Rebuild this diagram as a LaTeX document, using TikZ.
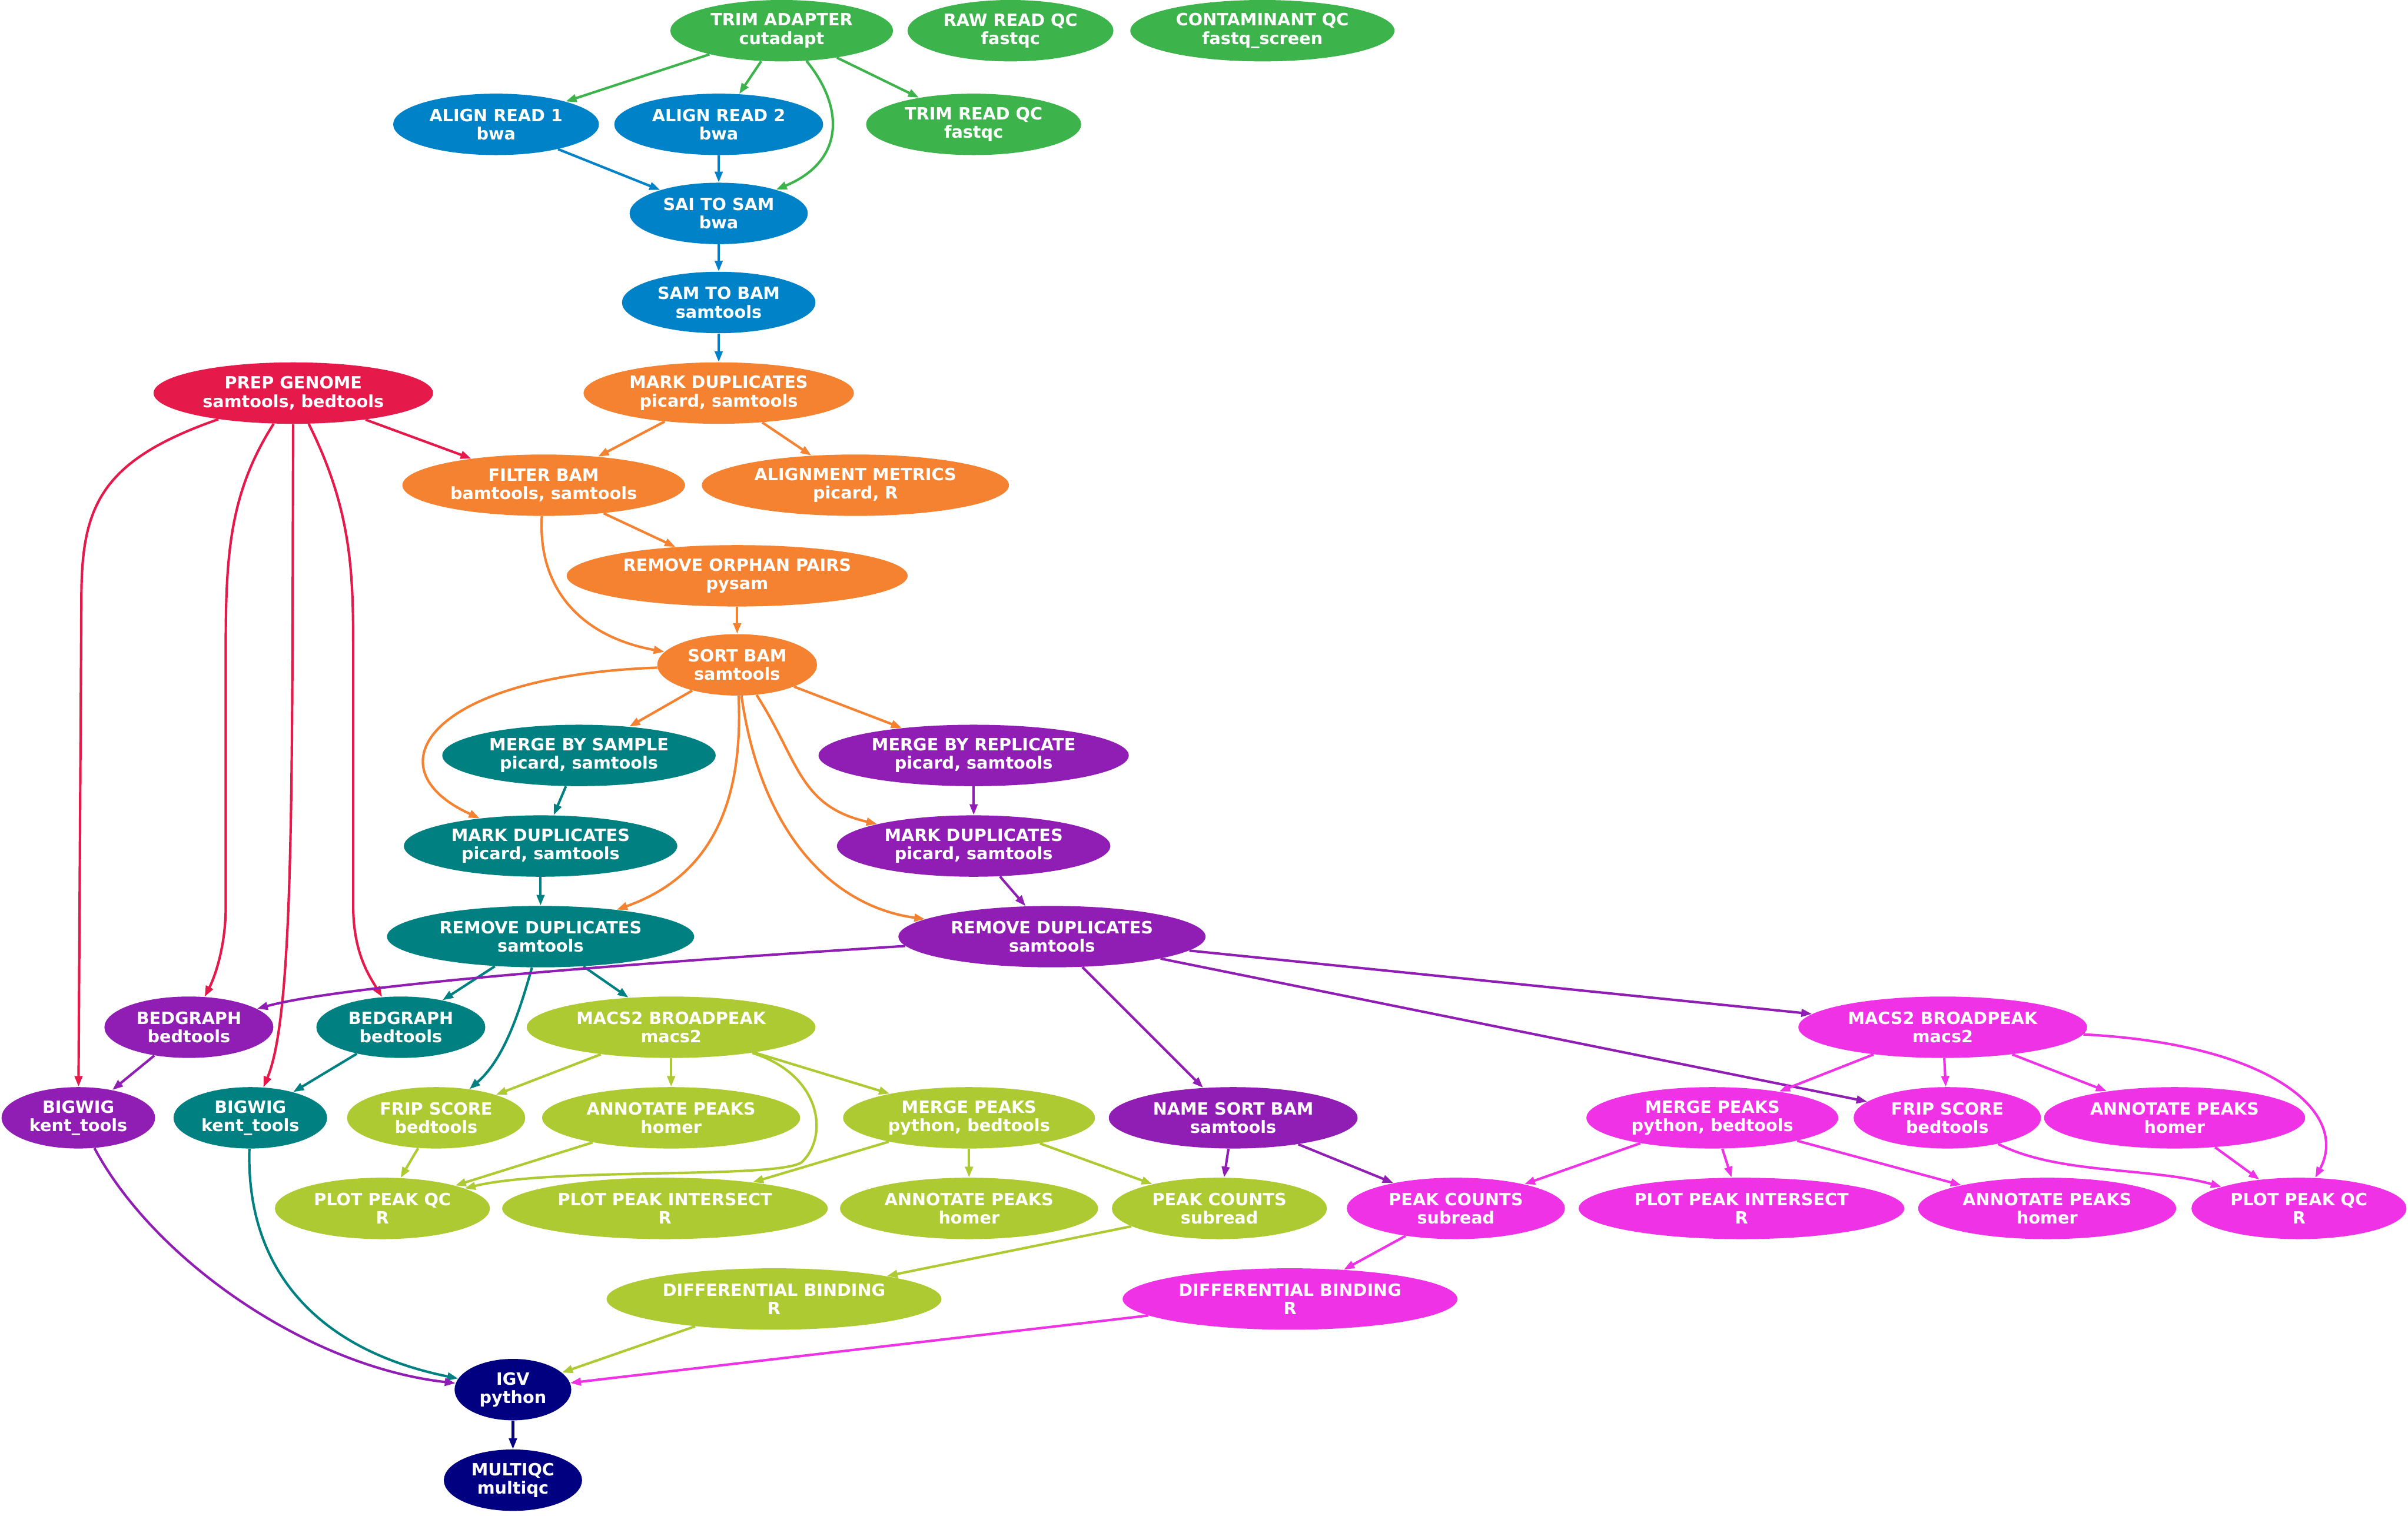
\documentclass[tikz,border=0pt]{standalone}
\usepackage{fontspec}
\setmainfont{DejaVu Sans}
\usetikzlibrary{shapes.geometric,arrows.meta}
\definecolor{cG}{HTML}{3CB44B}
\definecolor{cB}{HTML}{0082C8}
\definecolor{cO}{HTML}{F58231}
\definecolor{cR}{HTML}{E6194B}
\definecolor{cT}{HTML}{008080}
\definecolor{cP}{HTML}{911EB4}
\definecolor{cL}{HTML}{AECA32}
\definecolor{cM}{HTML}{F032E6}
\definecolor{cN}{HTML}{000080}
\tikzset{
  nd/.style={ellipse, inner sep=0pt, minimum height=40pt, text=white,
    font=\bfseries\fontsize{11}{12}\selectfont, align=center},
  ed/.style={line width=1.6pt, -{Triangle[length=7pt,width=5pt]}},
}
\begin{document}
\begin{tikzpicture}[x=1pt,y=-1pt]
\useasboundingbox (0,0) rectangle (1568,987);
% green
\node[nd,fill=cG,minimum width=145pt] (trim) at (509,20) {TRIM ADAPTER\\cutadapt};
\node[nd,fill=cG,minimum width=134pt] (rawqc) at (658,20) {RAW READ QC\\fastqc};
\node[nd,fill=cG,minimum width=172pt] (contqc) at (822,20) {CONTAMINANT QC\\fastq\_screen};
\node[nd,fill=cG,minimum width=140pt] (trimqc) at (634,81) {TRIM READ QC\\fastqc};
% blue
\node[nd,fill=cB,minimum width=134pt] (align1) at (323,81) {ALIGN READ 1\\bwa};
\node[nd,fill=cB,minimum width=136pt] (align2) at (468,81) {ALIGN READ 2\\bwa};
\node[nd,fill=cB,minimum width=116pt] (sai) at (468,139) {SAI TO SAM\\bwa};
\node[nd,fill=cB,minimum width=126pt] (sam2bam) at (468,197) {SAM TO BAM\\samtools};
% red
\node[nd,fill=cR,minimum width=182pt] (prep) at (191,256) {PREP GENOME\\samtools, bedtools};
% orange
\node[nd,fill=cO,minimum width=176pt] (markdup) at (468,256) {MARK DUPLICATES\\picard, samtools};
\node[nd,fill=cO,minimum width=184pt] (filter) at (354,316) {FILTER BAM\\bamtools, samtools};
\node[nd,fill=cO,minimum width=200pt] (alnmet) at (557,316) {ALIGNMENT METRICS\\picard, R};
\node[nd,fill=cO,minimum width=222pt] (orphan) at (480,375) {REMOVE ORPHAN PAIRS\\pysam};
\node[nd,fill=cO,minimum width=104pt] (sort) at (480,433) {SORT BAM\\samtools};
% teal
\node[nd,fill=cT,minimum width=178pt] (mergeS) at (377,492) {MERGE BY SAMPLE\\picard, samtools};
\node[nd,fill=cT,minimum width=178pt] (markdupT) at (352,551) {MARK DUPLICATES\\picard, samtools};
\node[nd,fill=cT,minimum width=200pt] (rmdupT) at (352,610) {REMOVE DUPLICATES\\samtools};
\node[nd,fill=cT,minimum width=110pt] (bedgraphT) at (261,669) {BEDGRAPH\\bedtools};
\node[nd,fill=cT,minimum width=100pt] (bigwigT) at (163,728) {BIGWIG\\kent\_tools};
% purple
\node[nd,fill=cP,minimum width=202pt] (mergeR) at (634,492) {MERGE BY REPLICATE\\picard, samtools};
\node[nd,fill=cP,minimum width=178pt] (markdupP) at (634,551) {MARK DUPLICATES\\picard, samtools};
\node[nd,fill=cP,minimum width=200pt] (rmdupP) at (685,610) {REMOVE DUPLICATES\\samtools};
\node[nd,fill=cP,minimum width=110pt] (bedgraphP) at (123,669) {BEDGRAPH\\bedtools};
\node[nd,fill=cP,minimum width=100pt] (bigwigP) at (51,728) {BIGWIG\\kent\_tools};
\node[nd,fill=cP,minimum width=162pt] (namesort) at (803,728) {NAME SORT BAM\\samtools};
% lime
\node[nd,fill=cL,minimum width=188pt] (macsL) at (437,669) {MACS2 BROADPEAK\\macs2};
\node[nd,fill=cL,minimum width=116pt] (fripL) at (284,728) {FRIP SCORE\\bedtools};
\node[nd,fill=cL,minimum width=168pt] (annL) at (437,728) {ANNOTATE PEAKS\\homer};
\node[nd,fill=cL,minimum width=164pt] (mergeL) at (631,728) {MERGE PEAKS\\python, bedtools};
\node[nd,fill=cL,minimum width=140pt] (plotqcL) at (249,787) {PLOT PEAK QC\\R};
\node[nd,fill=cL,minimum width=212pt] (plotintL) at (433,787) {PLOT PEAK INTERSECT\\R};
\node[nd,fill=cL,minimum width=168pt] (annL2) at (631,787) {ANNOTATE PEAKS\\homer};
\node[nd,fill=cL,minimum width=140pt] (pcL) at (794,787) {PEAK COUNTS\\subread};
\node[nd,fill=cL,minimum width=218pt] (diffL) at (504,846) {DIFFERENTIAL BINDING\\R};
% magenta
\node[nd,fill=cM,minimum width=188pt] (macsM) at (1265,669) {MACS2 BROADPEAK\\macs2};
\node[nd,fill=cM,minimum width=164pt] (mergeM) at (1115,728) {MERGE PEAKS\\python, bedtools};
\node[nd,fill=cM,minimum width=122pt] (fripM) at (1268,728) {FRIP SCORE\\bedtools};
\node[nd,fill=cM,minimum width=170pt] (annM) at (1416,728) {ANNOTATE PEAKS\\homer};
\node[nd,fill=cM,minimum width=142pt] (pcM) at (948,787) {PEAK COUNTS\\subread};
\node[nd,fill=cM,minimum width=212pt] (plotintM) at (1134,787) {PLOT PEAK INTERSECT\\R};
\node[nd,fill=cM,minimum width=168pt] (annM2) at (1333,787) {ANNOTATE PEAKS\\homer};
\node[nd,fill=cM,minimum width=140pt] (plotqcM) at (1497,787) {PLOT PEAK QC\\R};
\node[nd,fill=cM,minimum width=218pt] (diffM) at (840,846) {DIFFERENTIAL BINDING\\R};
% navy
\node[nd,fill=cN,minimum width=76pt] (igv) at (334,905) {IGV\\python};
\node[nd,fill=cN,minimum width=90pt] (multiqc) at (334,964) {MULTIQC\\multiqc};

% green edges
\draw[ed,cG] (trim) -- (align1);
\draw[ed,cG] (trim) -- (align2);
\draw[ed,cG] (trim) .. controls (550,70) and (550,105) .. (sai);
\draw[ed,cG] (trim) -- (trimqc);
% blue edges
\draw[ed,cB] (align1) -- (sai);
\draw[ed,cB] (align2) -- (sai);
\draw[ed,cB] (sai) -- (sam2bam);
\draw[ed,cB] (sam2bam) -- (markdup);
% orange edges
\draw[ed,cO] (markdup) -- (filter);
\draw[ed,cO] (markdup) -- (alnmet);
\draw[ed,cO] (filter) -- (orphan);
\draw[ed,cO] (filter) .. controls (350,385) and (380,415) .. (sort);
\draw[ed,cO] (orphan) -- (sort);
\draw[ed,cO] (sort) -- (mergeS);
\draw[ed,cO] (sort) -- (mergeR);
\draw[ed,cO] (sort) .. controls (280,440) and (240,500) .. (markdupT);
\draw[ed,cO] (sort) .. controls (484,520) and (465,570) .. (rmdupT);
\draw[ed,cO] (sort) .. controls (520,495) and (520,525) .. (markdupP);
\draw[ed,cO] (sort) .. controls (495,540) and (540,590) .. (rmdupP);
% red edges
\draw[ed,cR] (prep) -- (filter);
\draw[ed,cR] (prep) .. controls (65,300) and (53,330) .. (53,390) -- (bigwigP);
\draw[ed,cR] (prep) .. controls (150,320) and (147,360) .. (147,420) -- (147,590) .. controls (147,620) and (138,640) .. (bedgraphP);
\draw[ed,cR] (prep) .. controls (190,500) and (192,660) .. (bigwigT);
\draw[ed,cR] (prep) .. controls (228,330) and (230,370) .. (230,420) -- (230,590) .. controls (230,620) and (240,635) .. (bedgraphT);
% teal edges
\draw[ed,cT] (mergeS) -- (markdupT);
\draw[ed,cT] (markdupT) -- (rmdupT);
\draw[ed,cT] (rmdupT) -- (bedgraphT);
\draw[ed,cT] (rmdupT) -- (macsL);
\draw[ed,cT] (rmdupT) .. controls (338,660) and (328,690) .. (fripL);
\draw[ed,cT] (bedgraphT) -- (bigwigT);
\draw[ed,cT] (bigwigT) .. controls (160,830) and (210,880) .. (igv);
% purple edges
\draw[ed,cP] (mergeR) -- (markdupP);
\draw[ed,cP] (markdupP) -- (rmdupP);
\draw[ed,cP] (rmdupP) .. controls (450,625) and (230,640) .. (bedgraphP);
\draw[ed,cP] (rmdupP) -- (macsM);
\draw[ed,cP] (rmdupP) -- (namesort);
\draw[ed,cP] (rmdupP) -- (fripM);
\draw[ed,cP] (bedgraphP) -- (bigwigP);
\draw[ed,cP] (bigwigP) .. controls (100,820) and (200,890) .. (igv);
\draw[ed,cP] (namesort) -- (pcL);
\draw[ed,cP] (namesort) -- (pcM);
% lime edges
\draw[ed,cL] (macsL) -- (fripL);
\draw[ed,cL] (macsL) -- (annL);
\draw[ed,cL] (macsL) -- (mergeL);
\draw[ed,cL] (macsL) .. controls (535,700) and (540,740) .. (522,757) .. controls (505,768) and (360,760) .. (plotqcL);
\draw[ed,cL] (fripL) -- (plotqcL);
\draw[ed,cL] (annL) -- (plotqcL);
\draw[ed,cL] (mergeL) -- (plotintL);
\draw[ed,cL] (mergeL) -- (annL2);
\draw[ed,cL] (mergeL) -- (pcL);
\draw[ed,cL] (pcL) -- (diffL);
\draw[ed,cL] (diffL) -- (igv);
% magenta edges
\draw[ed,cM] (macsM) -- (mergeM);
\draw[ed,cM] (macsM) -- (fripM);
\draw[ed,cM] (macsM) -- (annM);
\draw[ed,cM] (macsM) .. controls (1480,680) and (1530,725) .. (plotqcM);
\draw[ed,cM] (mergeM) -- (pcM);
\draw[ed,cM] (mergeM) -- (plotintM);
\draw[ed,cM] (mergeM) -- (annM2);
\draw[ed,cM] (fripM) .. controls (1340,765) and (1400,760) .. (plotqcM);
\draw[ed,cM] (annM) -- (plotqcM);
\draw[ed,cM] (pcM) -- (diffM);
\draw[ed,cM] (diffM) -- (igv);
% navy
\draw[ed,cN] (igv) -- (multiqc);
\end{tikzpicture}
\end{document}
